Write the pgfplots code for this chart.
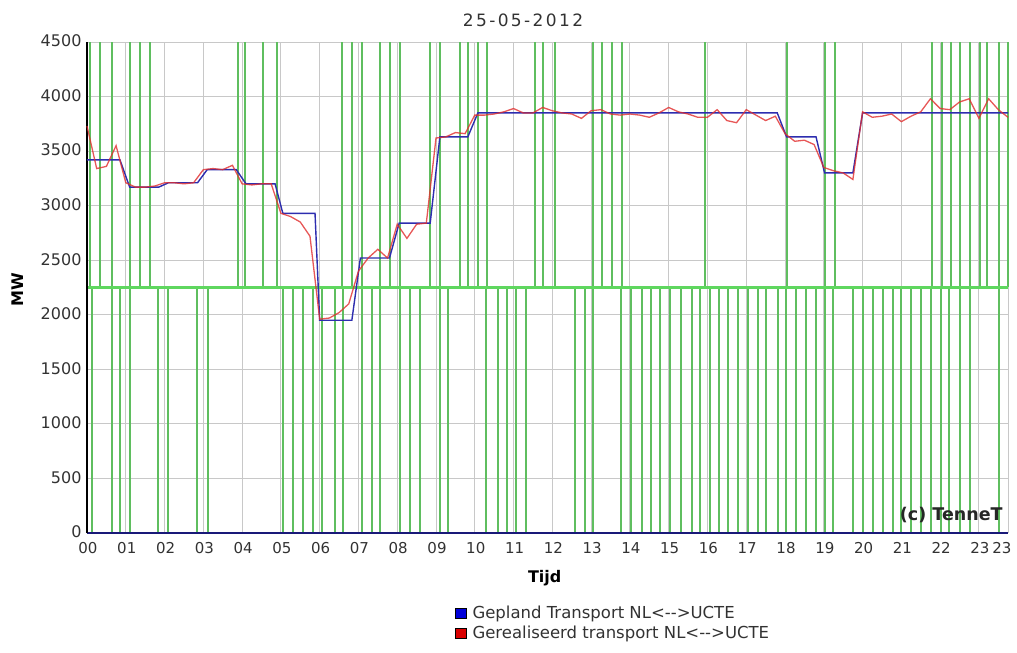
\documentclass[border=0pt]{standalone}
\usepackage{fontspec}
\setmainfont{DejaVu Sans}
\usepackage{pgfplots}
\pgfplotsset{compat=1.18}
\usepackage{pgfplotstable}
\definecolor{gridgray}{RGB}{200,200,200}
\definecolor{gcore}{RGB}{95,190,95}
\definecolor{gline}{RGB}{95,215,95}
\definecolor{planblue}{RGB}{45,45,175}
\definecolor{realred}{RGB}{225,45,45}
\definecolor{axisnavy}{RGB}{25,25,120}
\definecolor{txt}{RGB}{50,50,50}

% green indicator: vertical strokes in upper half (2250-4500)
\pgfplotstableread[row sep=\\]{
x y\\
0.08 2250\\ 0.34 2250\\ 0.64 2250\\ 1.11 2250\\ 1.37 2250\\ 1.62 2250\\
3.89 2250\\ 4.07 2250\\ 4.54 2250\\ 4.90 2250\\ 6.57 2250\\ 6.83 2250\\
7.09 2250\\ 7.55 2250\\ 7.81 2250\\ 8.07 2250\\ 8.84 2250\\ 9.10 2250\\
9.61 2250\\ 9.82 2250\\ 10.08 2250\\ 10.31 2250\\ 11.55 2250\\ 11.75 2250\\
12.06 2250\\ 13.04 2250\\ 13.27 2250\\ 13.53 2250\\ 13.79 2250\\ 15.93 2250\\
18.04 2250\\ 19.02 2250\\ 19.28 2250\\ 21.78 2250\\ 22.04 2250\\ 22.29 2250\\
22.50 2250\\ 22.76 2250\\ 23.02 2250\\ 23.22 2250\\ 23.53 2250\\ 23.74 2250\\
}\greenup
% green indicator: vertical strokes in lower half (0-2250)
\pgfplotstableread[row sep=\\]{
x y\\
0.12 0\\ 0.64 0\\ 0.85 0\\ 1.11 0\\ 1.84 0\\ 2.10 0\\ 2.83 0\\ 3.13 0\\
5.06 0\\ 5.32 0\\ 5.57 0\\ 5.83 0\\ 6.05 0\\ 6.39 0\\ 6.61 0\\ 7.08 0\\
7.34 0\\ 7.55 0\\ 8.07 0\\ 8.32 0\\ 8.58 0\\ 9.10 0\\ 9.31 0\\ 10.30 0\\
10.60 0\\ 10.82 0\\ 11.07 0\\ 11.33 0\\ 12.58 0\\ 12.84 0\\ 13.05 0\\ 13.78 0\\
14.04 0\\ 14.30 0\\ 14.55 0\\ 14.77 0\\ 15.03 0\\ 15.33 0\\ 15.59 0\\ 15.80 0\\
16.06 0\\ 16.31 0\\ 16.53 0\\ 16.79 0\\ 17.04 0\\ 17.30 0\\ 17.52 0\\ 17.82 0\\
18.03 0\\ 18.29 0\\ 18.55 0\\ 18.81 0\\ 19.02 0\\ 19.23 0\\ 19.75 0\\ 20.01 0\\
20.27 0\\ 20.52 0\\ 20.78 0\\ 21.00 0\\ 21.26 0\\ 21.51 0\\ 21.77 0\\ 22.03 0\\
22.24 0\\ 22.50 0\\ 22.76 0\\ 23.53 0\\
}\greenlow

\begin{document}
\begin{tikzpicture}
\useasboundingbox (-87pt,-120pt) rectangle (930pt,533pt);
\begin{axis}[
  at={(0pt,0pt)}, anchor=south west,
  scale only axis, width=921pt, height=491pt,
  xmin=0, xmax=23.75, ymin=0, ymax=4500,
  clip=false,
  axis lines*=left,
  x axis line style={draw=none},
  y axis line style={draw=none},
  xtick={0,1,2,3,4,5,6,7,8,9,10,11,12,13,14,15,16,17,18,19,20,21,22,23},
  xticklabels={00,01,02,03,04,05,06,07,08,09,10,11,12,13,14,15,16,17,18,19,20,21,22,23},
  extra x ticks={23.75},
  extra x tick labels={23},
  extra x tick style={grid=major, xticklabel style={anchor=north east, xshift=6pt}},
  ytick={0,500,1000,1500,2000,2500,3000,3500,4000,4500},
  grid=major,
  major grid style={gridgray, line width=0.9pt},
  major tick length=0pt,
  xticklabel style={font=\fontsize{15}{15}\selectfont, text=txt, yshift=-6pt, xshift=1pt},
  yticklabel style={font=\fontsize{16}{16}\selectfont, text=txt, xshift=-2pt, yshift=1pt},
  /pgf/number format/assume math mode=true,
  /pgf/number format/1000 sep={},
  legend style={at={(axis description cs:0.3996,-0.144)}, anchor=north west,
    draw=none, fill=none, font=\fontsize{16.5}{16.5}\selectfont, text=txt,
    row sep=2pt, inner sep=0pt,
    /tikz/every odd column/.append style={column sep=4pt}},
  legend cell align=left,
]
% green indicator strokes
\addplot[forget plot, gcore, line width=2pt, quiver={u=0,v=2250}] table[x=x,y=y] {\greenup};
\addplot[forget plot, gcore, line width=2pt, quiver={u=0,v=2250}] table[x=x,y=y] {\greenlow};
\addplot[forget plot, gline, line width=2.2pt] coordinates {(0,2250) (23.75,2250)};

% axis lines drawn over the green strokes
\addplot[forget plot, axisnavy, line width=1.8pt] coordinates {(0,0) (23.75,0)};
\addplot[forget plot, black, line width=2pt] coordinates {(0,0) (0,4500)};

% planned (blue)
\addplot[planblue, line width=1.4pt,
  legend image code/.code={\draw[black, fill=blue!85!black, line width=0.3pt] (0pt,-5pt) rectangle (11pt,5pt);}]
coordinates {
(0,3420) (0.85,3420) (1.1,3170) (1.85,3170) (2.1,3210) (2.85,3210) (3.1,3330)
(3.85,3330) (4.1,3200) (4.85,3200) (5.05,2930) (5.88,2930) (6.0,1950)
(6.83,1950) (7.05,2520) (7.8,2520) (8.05,2840) (8.85,2840) (9.1,3630)
(9.82,3630) (10.08,3850) (17.8,3850) (18.04,3630) (18.8,3630) (19.02,3300)
(19.75,3300) (20.0,3850) (23.75,3850)
};
\addlegendentry{Gepland Transport NL<-{}->UCTE}

% realised (red)
\addplot[realred, line width=1.3pt, opacity=0.8,
  legend image code/.code={\draw[black, fill=red!85!black, line width=0.3pt, opacity=1] (0pt,-5pt) rectangle (11pt,5pt);}]
table[row sep=\\] {
x y\\
0 3730\\ 0.25 3340\\ 0.5 3360\\ 0.75 3550\\ 1 3210\\ 1.25 3170\\ 1.5 3170\\ 1.75 3180\\
2 3210\\ 2.25 3210\\ 2.5 3200\\ 2.75 3210\\ 3 3330\\ 3.25 3340\\ 3.5 3330\\ 3.75 3370\\
4 3200\\ 4.25 3190\\ 4.5 3200\\ 4.75 3200\\ 5 2930\\ 5.25 2900\\ 5.5 2850\\ 5.75 2720\\
6 1960\\ 6.25 1970\\ 6.5 2020\\ 6.75 2100\\ 7 2400\\ 7.25 2520\\ 7.5 2600\\ 7.75 2520\\
8 2830\\ 8.25 2700\\ 8.5 2830\\ 8.75 2840\\ 9 3620\\ 9.25 3630\\ 9.5 3670\\ 9.75 3660\\
10 3830\\ 10.25 3830\\ 10.5 3840\\ 10.75 3860\\ 11 3890\\ 11.25 3850\\ 11.5 3850\\ 11.75 3900\\
12 3870\\ 12.25 3850\\ 12.5 3840\\ 12.75 3800\\ 13 3870\\ 13.25 3880\\ 13.5 3840\\ 13.75 3830\\
14 3840\\ 14.25 3830\\ 14.5 3810\\ 14.75 3850\\ 15 3900\\ 15.25 3860\\ 15.5 3840\\ 15.75 3810\\
16 3810\\ 16.25 3880\\ 16.5 3780\\ 16.75 3760\\ 17 3880\\ 17.25 3830\\ 17.5 3780\\ 17.75 3820\\
18 3660\\ 18.25 3590\\ 18.5 3600\\ 18.75 3560\\ 19 3350\\ 19.25 3320\\ 19.5 3300\\ 19.75 3240\\
20 3860\\ 20.25 3810\\ 20.5 3820\\ 20.75 3840\\ 21 3770\\ 21.25 3820\\ 21.5 3860\\ 21.75 3980\\
22 3890\\ 22.25 3880\\ 22.5 3950\\ 22.75 3980\\ 23 3800\\ 23.25 3980\\ 23.5 3880\\ 23.75 3810\\
};
\addlegendentry{Gerealiseerd transport NL<-{}->UCTE}

\node[font=\fontsize{17}{17}\selectfont\addfontfeatures{LetterSpace=14}, text=txt] at (axis description cs:0.4734,1.045) {25-05-2012};
\node[font=\fontsize{16}{16}\selectfont\bfseries, rotate=90] at (axis description cs:-0.0749,0.495) {MW};
\node[font=\fontsize{16}{16}\selectfont\bfseries] at (axis description cs:0.497,-0.0916) {Tijd};
\node[font=\fontsize{17.5}{17.5}\selectfont\bfseries, text=black!85, anchor=east] at (axis description cs:0.998,0.036) {(c) TenneT};
\end{axis}
\end{tikzpicture}
\end{document}
